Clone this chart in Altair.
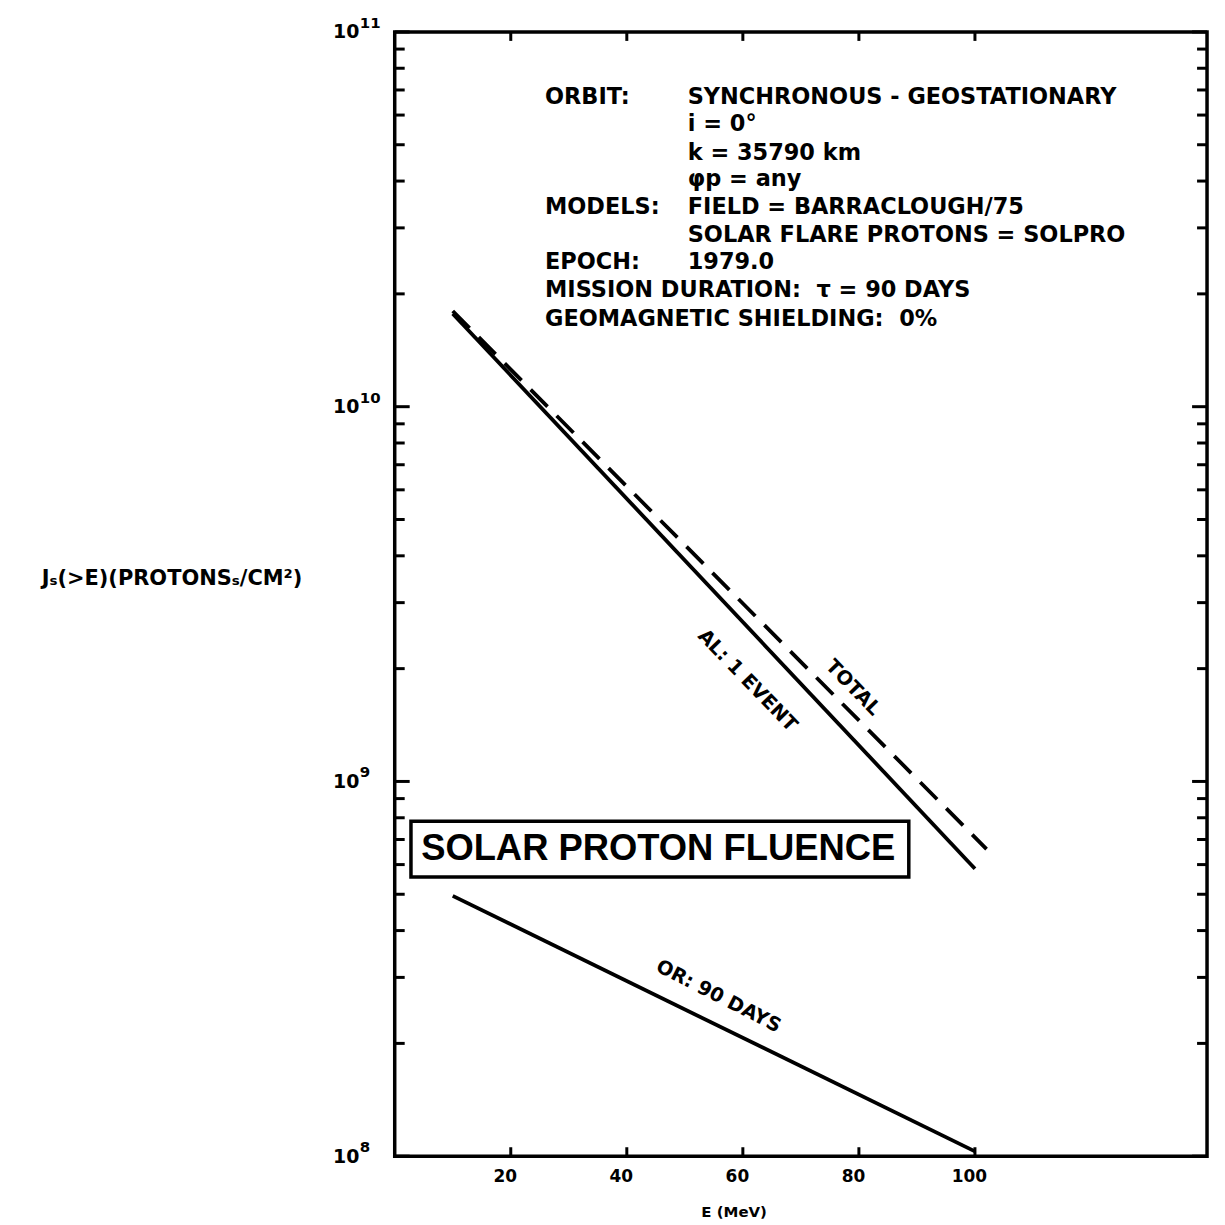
import altair as alt
import pandas as pd

# ---------------- data ----------------
E_al = [10, 100]
J_al = [1.77e10, 5.85e8]
E_total = [10, 102]
J_total = [1.80e10, 6.6e8]
E_or = [10, 100]
J_or = [4.95e8, 1.03e8]

x_tick_values = [20, 40, 60, 80, 100]
y_major = [1e8, 1e9, 1e10, 1e11]
y_exponents = ["8", "9", "10", "11"]
y_minor = [m * 10 ** d for d in (8, 9, 10) for m in range(2, 10)]

NB = "\u00a0"
# info block (positions in data units: E in MeV, flux)
info_left_text = ["ORBIT:", "MODELS:", "EPOCH:",
                  "MISSION DURATION:" + NB + NB + "\u03c4 = 90 DAYS",
                  "GEOMAGNETIC SHIELDING:" + NB + NB + "0%"]
info_left_J = [6.72e10, 3.40e10, 2.43e10, 2.05e10, 1.71e10]
info_right_text = ["SYNCHRONOUS - GEOSTATIONARY", "i = 0\u00b0", "k = 35790 km", "\u03c6p = any",
                   "FIELD = BARRACLOUGH/75", "SOLAR FLARE PROTONS = SOLPRO", "1979.0"]
info_right_J = [6.72e10, 5.69e10, 4.76e10, 4.04e10, 3.40e10, 2.88e10, 2.43e10]
info_left_E = 25.9
info_right_E = 50.5

curve_labels = ["AL: 1 EVENT", "TOTAL", "OR: 90 DAYS"]
curve_label_E = [60.8, 79.0, 55.8]
curve_label_J = [1.86e9, 1.78e9, 2.67e8]
curve_label_angle = [46, 46, 27]

box_text = "SOLAR PROTON FLUENCE"
box_E = [2.8, 88.6]
box_J = [5.56e8, 7.83e8]
box_text_E = 45.4
box_text_J = 6.59e8

W, H = 815, 1128
FONT = "DejaVu Sans"

xs = alt.Scale(domain=[0, 140], nice=False, zero=False)
ys = alt.Scale(type="log", domain=[1e8, 1e11], nice=False)


def X():
    return alt.X("E:Q", scale=xs)


def Y():
    return alt.Y("J:Q", scale=ys)


line_base = dict(strokeWidth=3.8, color="black", clip=True)

al = alt.Chart(pd.DataFrame({"E": E_al, "J": J_al})).mark_line(**line_base).encode(
    x=alt.X("E:Q", scale=xs, axis=alt.Axis(
        values=x_tick_values, ticks=False, tickSize=0, domain=False, grid=False,
        labelFont=FONT, labelFontWeight="bold", labelFontSize=17, labelPadding=12,
        labelOffset=-6, labelColor="black",
        title="E (MeV)", titleFont=FONT, titleFontWeight="bold", titleFontSize=15,
        titleColor="black", titleX=340, titleY=55, titleBaseline="middle")),
    y=alt.Y("J:Q", scale=ys, axis=alt.Axis(
        values=y_major, labelExpr="'10'", ticks=False, tickSize=0, domain=False,
        grid=False, labelFont=FONT, labelFontWeight="bold", labelFontSize=19,
        labelPadding=36, labelColor="black", labelBaseline="middle",
        title="J\u209b(>E)(PROTONS\u209b/CM\u00b2)", titleFont=FONT, titleFontWeight="bold",
        titleFontSize=21, titleColor="black", titleAngle=0, titleX=-224, titleY=548,
        titleAlign="center", titleBaseline="middle")),
)

total = alt.Chart(pd.DataFrame({"E": E_total, "J": J_total})).mark_line(
    strokeDash=[24, 13], **line_base).encode(x=X(), y=Y())

orl = alt.Chart(pd.DataFrame({"E": E_or, "J": J_or})).mark_line(**line_base).encode(
    x=X(), y=Y())

# exponents of the y labels
exps = alt.Chart(pd.DataFrame({"J": y_major, "t": y_exponents})).mark_text(
    font=FONT, fontWeight="bold", fontSize=15, align="left", baseline="middle",
    dy=-9, color="black").encode(x=alt.value(-35), y=Y(), text="t:N")

# inward ticks
tick_style = dict(strokeWidth=3, color="black")
yt_major = pd.DataFrame({"J": y_major})
yt_minor = pd.DataFrame({"J": y_minor})
left_major = alt.Chart(yt_major).mark_rule(**tick_style).encode(
    x=alt.value(0), x2=alt.value(15), y=Y())
left_minor = alt.Chart(yt_minor).mark_rule(**tick_style).encode(
    x=alt.value(0), x2=alt.value(10), y=Y())
right_major = alt.Chart(yt_major).mark_rule(**tick_style).encode(
    x=alt.value(W - 15), x2=alt.value(W), y=Y())
right_minor = alt.Chart(yt_minor).mark_rule(**tick_style).encode(
    x=alt.value(W - 10), x2=alt.value(W), y=Y())
xt = pd.DataFrame({"E": x_tick_values})
bottom_ticks = alt.Chart(xt).mark_rule(**tick_style).encode(
    x=X(), y=alt.value(H - 9), y2=alt.value(H))
top_ticks = alt.Chart(xt).mark_rule(**tick_style).encode(
    x=X(), y=alt.value(0), y2=alt.value(9))

# info block
info_style = dict(font=FONT, fontWeight="bold", fontSize=22.5, align="left",
                  baseline="middle", color="black")
info_l = alt.Chart(pd.DataFrame({"E": [info_left_E] * len(info_left_text), "J": info_left_J,
                                 "t": info_left_text})).mark_text(**info_style).encode(
    x=X(), y=Y(), text="t:N")
info_r = alt.Chart(pd.DataFrame({"E": [info_right_E] * len(info_right_text), "J": info_right_J,
                                 "t": info_right_text})).mark_text(**info_style).encode(
    x=X(), y=Y(), text="t:N")

# curve labels (each with its own angle)
curve_layers = []
for t, e, j, a in zip(curve_labels, curve_label_E, curve_label_J, curve_label_angle):
    curve_layers.append(
        alt.Chart(pd.DataFrame({"E": [e], "J": [j], "t": [t]})).mark_text(
            font=FONT, fontWeight="bold", fontSize=19.5, align="center", baseline="middle",
            angle=a, color="black").encode(x=X(), y=Y(), text="t:N"))

# title box
box = alt.Chart(pd.DataFrame({"E": [box_E[0]], "E2": [box_E[1]], "J": [box_J[0]],
                              "J2": [box_J[1]]})).mark_rect(
    fill="white", stroke="black", strokeWidth=3.5).encode(
    x=X(), x2="E2:Q", y=Y(), y2="J2:Q")
box_lbl = alt.Chart(pd.DataFrame({"E": [box_text_E], "J": [box_text_J], "t": [box_text]})).mark_text(
    font="Liberation Sans", fontWeight="bold", fontSize=36.5, align="center", baseline="middle",
    color="black").encode(x=X(), y=Y(), text="t:N")

chart = alt.layer(
    al, total, orl, exps,
    left_major, left_minor, right_major, right_minor, bottom_ticks, top_ticks,
    info_l, info_r, *curve_layers, box, box_lbl,
).properties(
    width=W, height=H,
    background="white",
    autosize=alt.AutoSizeParams(type="none"),
    padding={"left": 388, "top": 22, "right": 10, "bottom": 62},
).configure_view(
    stroke="black", strokeWidth=3.5
)

chart.save("out.html", embed_options={"renderer": "svg", "actions": False})
